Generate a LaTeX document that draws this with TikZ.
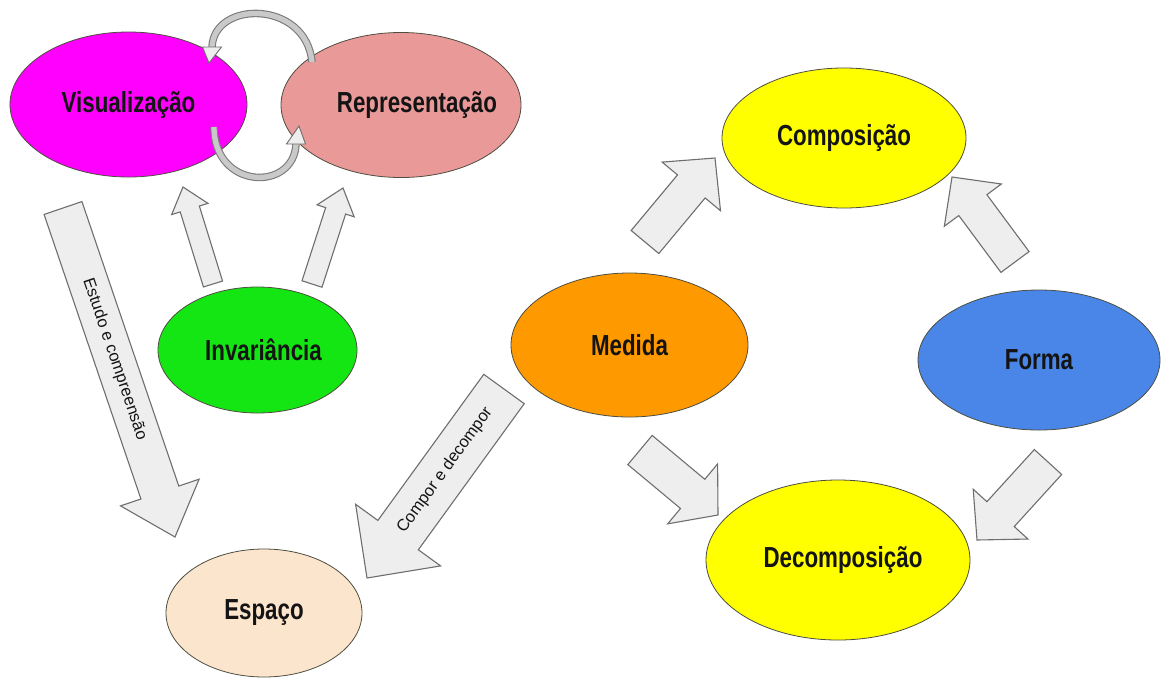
\documentclass[tikz,border=0pt]{standalone}
\usepackage{fontspec}
\setmainfont{Liberation Sans}
\usetikzlibrary{shapes.geometric,calc}

\definecolor{vismag}{HTML}{FF00FF}
\definecolor{reppink}{HTML}{EA9999}
\definecolor{invgreen}{HTML}{14E614}
\definecolor{medorange}{HTML}{FF9900}
\definecolor{compyellow}{HTML}{FFFF00}
\definecolor{formblue}{HTML}{4A86E8}
\definecolor{espacopeach}{HTML}{FCE5CD}
\definecolor{ringline}{HTML}{4D4D40}
\definecolor{labelink}{HTML}{141414}
\definecolor{arrowfill}{HTML}{EEEEEE}
\definecolor{arrowline}{HTML}{6E6E6E}
\definecolor{arcfill}{HTML}{C9C9C9}
\definecolor{arcline}{HTML}{7A7A7A}

\tikzset{
  bubble/.style={ellipse, draw=ringline, line width=0.8pt, inner sep=0pt,
    font=\fontsize{29}{34}\selectfont\bfseries, text=labelink},
  blockarrow/.style={fill=arrowfill, draw=arrowline, line width=1.1pt, line join=miter},
  arrowtext/.style={font=\fontsize{16.5}{19}\selectfont, text=labelink, inner sep=0pt},
  bandout/.style={line width=7.5pt, draw=arcline, line cap=butt},
  bandin/.style={line width=5.3pt, draw=arcfill, line cap=butt},
}
% condensed bold label
\newcommand\narrowlbl[1]{\scalebox{0.77}[1]{#1}}
% straight block arrow: tail, tip, shaft half width, head half width, head length
\newcommand\blockarr[5]{%
  \coordinate (ba-h) at ($(#2)!#5!(#1)$);
  \draw[blockarrow]
    ($(#1)!#3!90:(#2)$) -- ($(ba-h)!#3!90:(#2)$) -- ($(ba-h)!#4!90:(#2)$) --
    (#2) --
    ($(ba-h)!#4!-90:(#2)$) -- ($(ba-h)!#3!-90:(#2)$) -- ($(#1)!#3!-90:(#2)$) -- cycle;
}

\begin{document}
\begin{tikzpicture}[x=1pt,y=-1pt]
\useasboundingbox (0,0) rectangle (1161,678);

% concept bubbles
\node[bubble, fill=vismag, minimum width=237pt, minimum height=145pt] (vis) at (128.5,104.5) {\narrowlbl{Visualização}};
\node[bubble, fill=reppink, minimum width=240pt, minimum height=145pt,
  label={[xshift=16pt,text=labelink,font=\fontsize{29}{34}\selectfont\bfseries]center:\narrowlbl{Representação}}] (rep) at (401,105) {};
\node[bubble, fill=invgreen, minimum width=199pt, minimum height=126pt,
  label={[xshift=6pt,text=labelink,font=\fontsize{29}{34}\selectfont\bfseries]center:\narrowlbl{Invariância}}] (inv) at (257.5,350) {};
\node[bubble, fill=medorange, minimum width=237pt, minimum height=144pt] (med) at (629.5,345) {\narrowlbl{Medida}};
\node[bubble, fill=compyellow, minimum width=244pt, minimum height=140pt] (comp) at (844,138) {\narrowlbl{Composição}};
\node[bubble, fill=formblue, minimum width=242pt, minimum height=140pt] (forma) at (1039,360) {\narrowlbl{Forma}};
\node[bubble, fill=compyellow, minimum width=264pt, minimum height=160pt,
  label={[xshift=5pt,text=labelink,font=\fontsize{29}{34}\selectfont\bfseries]center:\narrowlbl{Decomposição}}] (decomp) at (838,560) {};
\node[bubble, fill=espacopeach, minimum width=196pt, minimum height=128pt] (esp) at (264,613) {\narrowlbl{Espaço}};

% cycle between Visualização and Representação
\coordinate (cyc-r) at (312,62);
\coordinate (cyc-v) at (212,47);
\coordinate (cyc-vtip) at (209,63);
\draw[bandout] (cyc-r) .. controls (306,0) and (214,0) .. (cyc-v);
\draw[bandin] (cyc-r) .. controls (306,0) and (214,0) .. (cyc-v);
\draw[blockarrow, line width=0.9pt] (202.5,47) -- (cyc-vtip) -- (221.5,47) -- cycle;

\coordinate (cyc-v2) at (214,127);
\coordinate (cyc-r2) at (296,144);
\coordinate (cyc-rtip) at (299,126);
\draw[bandout] (cyc-v2) .. controls (214,190) and (294,192) .. (cyc-r2);
\draw[bandin] (cyc-v2) .. controls (214,190) and (294,192) .. (cyc-r2);
\draw[blockarrow, line width=0.9pt] (286.5,144) -- (cyc-rtip) -- (305.5,144) -- cycle;

% Invariância towards the top pair
\coordinate (iv-a) at (213,284);   \coordinate (iv-b) at (183,187);
\blockarr{iv-a}{iv-b}{10pt}{19pt}{23pt}
\coordinate (ir-a) at (312,284);   \coordinate (ir-b) at (343,188);
\blockarr{ir-a}{ir-b}{10.5pt}{19.5pt}{24pt}

% Visualização towards Espaço
\coordinate (ve-a) at (63,208);    \coordinate (ve-b) at (175,537);
\blockarr{ve-a}{ve-b}{20pt}{41.5pt}{47pt}
\node[arrowtext, rotate=-71.2] (ve-t) at ($(ve-a)!0.46!(ve-b)$) {Estudo e compreensão};

% Medida towards Espaço
\coordinate (me-a) at (504,389);   \coordinate (me-b) at (367,578);
\blockarr{me-a}{me-b}{25pt}{52.5pt}{53pt}
\node[arrowtext, rotate=54.1] (me-t) at ($(me-a)!0.43!(me-b)$) {Compor e decompor};

% Medida and Forma towards Composição / Decomposição
\coordinate (mc-a) at (645,242);   \coordinate (mc-b) at (715,158);
\blockarr{mc-a}{mc-b}{18pt}{38pt}{37pt}
\coordinate (fc-a) at (1015,262);  \coordinate (fc-b) at (952,177);
\blockarr{fc-a}{fc-b}{17.5pt}{35.5pt}{35pt}
\coordinate (md-a) at (640,450);   \coordinate (md-b) at (718,515);
\blockarr{md-a}{md-b}{19pt}{39pt}{33pt}
\coordinate (fd-a) at (1048,462);  \coordinate (fd-b) at (977,540);
\blockarr{fd-a}{fd-b}{18.5pt}{37pt}{35pt}

\end{tikzpicture}
\end{document}
